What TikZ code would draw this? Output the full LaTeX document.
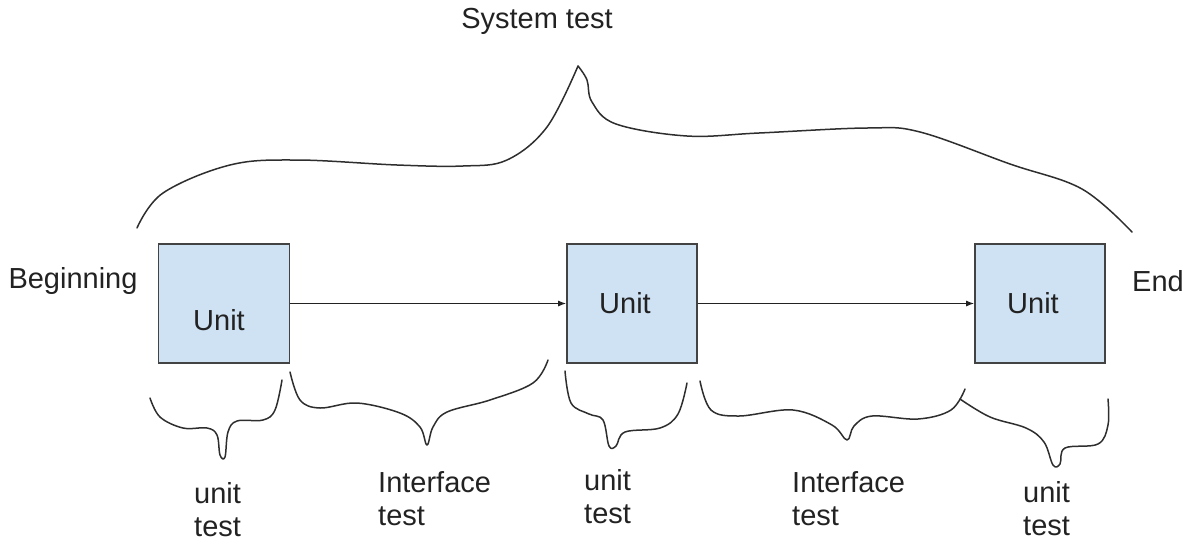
\documentclass[tikz,border=0pt]{standalone}
\usepackage{fontspec}
\setmainfont{Liberation Sans}
\usetikzlibrary{arrows.meta}
\definecolor{boxfill}{HTML}{CFE2F3}
\definecolor{boxline}{HTML}{434343}
\definecolor{ink}{HTML}{222222}
\definecolor{curve}{HTML}{2E2E2E}
\begin{document}
\begin{tikzpicture}[x=1pt,y=-1pt,
  unitbox/.style={draw=boxline,fill=boxfill,line width=1.6pt,minimum width=131pt,minimum height=119pt,inner sep=0pt},
  lbl/.style={text=ink,font=\fontsize{29}{33}\selectfont,inner sep=0pt},
  stack/.style={lbl,align=left},
  brace/.style={draw=curve,line width=1.5pt,line cap=round,line join=round},
  flow/.style={draw=ink,line width=1.2pt,-{Latex[length=8pt,width=6pt]}}]
\useasboundingbox (0,0) rectangle (1189,542);
\node[unitbox] (u1) at (224,303.5) {};
\node[unitbox,minimum width=130pt] (u2) at (632,303.5) {};
\node[unitbox,minimum width=130pt] (u3) at (1040,303.5) {};
\node[lbl] (t1) at (219,320) {Unit};
\node[lbl] (t2) at (625,303) {Unit};
\node[lbl] (t3) at (1033,303) {Unit};
\draw[flow] (u1.east) -- (u2.west);
\draw[flow] (u2.east) -- (u3.west);
\node[lbl] (beg) at (73,281) {Beginning};
\node[lbl] (end) at (1158,281) {End};
\node[lbl] (sys) at (537,21) {System test};
\node[stack,anchor=north west] (l1) at (194,482) {unit\\test};
\node[stack,anchor=north west] (l2) at (378,471) {Interface\\test};
\node[stack,anchor=north west] (l3) at (584,469) {unit\\test};
\node[stack,anchor=north west] (l4) at (792,471) {Interface\\test};
\node[stack,anchor=north west] (l5) at (1023,481) {unit\\test};
% system brace
\draw[brace] plot[smooth,tension=0.6] coordinates {(137,228) (163,193) (230,165) (297,160) (397,165) (463,166) (507,160) (547,127) (578,66)};
\draw[brace] plot[smooth,tension=0.6] coordinates {(578,66) (587,80) (592,102) (616,124) (687,136) (759,133) (867,128) (920,132) (1010,164) (1082,189) (1132,232)};
% small braces
\draw[brace] plot[smooth,tension=0.6] coordinates {(150,398) (160,417) (183,428) (207,428) (217,435) (220,455) (225,457) (228,432) (237,421) (263,420) (275,410) (282,380)};
\draw[brace] plot[smooth,tension=0.6] coordinates {(290,372) (300,400) (320,408) (357,403) (400,413) (420,427) (427,445) (433,427) (447,412) (490,400) (533,383) (548,360)};
\draw[brace] plot[smooth,tension=0.6] coordinates {(565,371) (571,403) (589,414) (603,420) (609,446) (616,446) (625,432) (660,428) (678,414) (687,383)};
\draw[brace] plot[smooth,tension=0.6] coordinates {(700,381) (711,410) (739,416) (793,410) (832,425) (847,440) (854,426) (872,416) (918,419) (951,410) (965,389)};
\draw[brace] plot[smooth,tension=0.6] coordinates {(960,399) (990,417) (1026,428) (1044,442) (1053,465) (1060,464) (1065,448) (1098,444) (1108,425) (1108,399)};
\end{tikzpicture}
\end{document}
